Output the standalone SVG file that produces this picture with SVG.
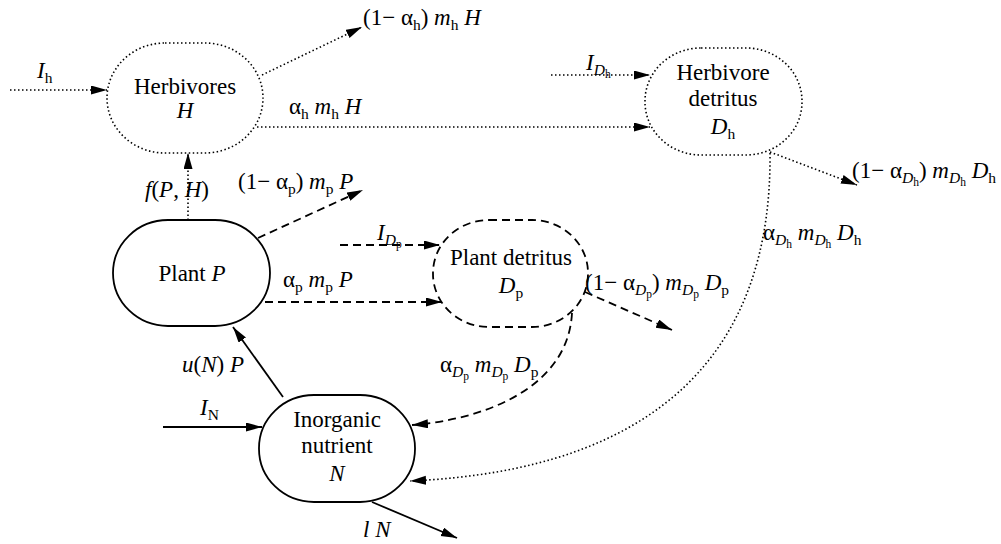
<svg xmlns="http://www.w3.org/2000/svg" width="1001" height="544" viewBox="0 0 1001 544" font-family="'Liberation Serif', 'DejaVu Serif', serif">
<style>
.t{font-size:23px;fill:#000}
.i{font-style:italic}
.s{font-size:15.5px}
.ss{font-size:11.5px}
.node{fill:none;stroke:#000}
.dot{stroke-dasharray:1.5 2.5;stroke-width:1.6}
.dash{stroke-dasharray:8 5;stroke-width:1.8}
.sol{stroke-width:1.8}
.c{fill:none;stroke:#000}
</style>
<defs>
<marker id="ah" markerUnits="userSpaceOnUse" markerWidth="17" markerHeight="10" refX="16" refY="4.5" orient="auto">
<path d="M0,0 L16,4.5 L0,9 z" fill="#000"/>
</marker>
</defs>
<rect width="1001" height="544" fill="#fff"/>
<g id="connectors">
<path class="c dot" d="M10,90 L107,90" marker-end="url(#ah)"/>
<path class="c dot" d="M262,75 L362,27" marker-end="url(#ah)"/>
<path class="c dot" d="M257,127 L650,127" marker-end="url(#ah)"/>
<path class="c dot" d="M551,75 L650,75" marker-end="url(#ah)"/>
<path class="c dot" d="M770,152 L857,185" marker-end="url(#ah)"/>
<path class="c dot" d="M770,153 C772,350 660,470 410,481" marker-end="url(#ah)"/>
<path class="c dot" d="M188,220 L188,153" marker-end="url(#ah)"/>
<path class="c dash" d="M258,238 L363,190" marker-end="url(#ah)"/>
<path class="c dash" d="M340,245 L440,245" marker-end="url(#ah)"/>
<path class="c dash" d="M265,302 L442,302" marker-end="url(#ah)"/>
<path class="c dash" d="M585,292 L672,330" marker-end="url(#ah)"/>
<path class="c dash" d="M572,313 C568,390 480,420 412,425" marker-end="url(#ah)"/>
<path class="c sol" d="M283,397 L233,327" marker-end="url(#ah)"/>
<path class="c sol" d="M163,427 L262,427" marker-end="url(#ah)"/>
<path class="c sol" d="M372,502 L457,538" marker-end="url(#ah)"/>
</g>
<g id="labels">
<text class="t" x="37" y="78"><tspan class="i">I</tspan><tspan class="s" dy="5">h</tspan></text>
<text class="t" x="363" y="25">(1− α<tspan class="s" dy="5">h</tspan><tspan dy="-5">) </tspan><tspan class="i">m</tspan><tspan class="s" dy="5">h</tspan><tspan dy="-5"> </tspan><tspan class="i">H</tspan></text>
<text class="t" x="289" y="114">α<tspan class="s" dy="5">h</tspan><tspan dy="-5"> </tspan><tspan class="i">m</tspan><tspan class="s" dy="5">h</tspan><tspan dy="-5"> </tspan><tspan class="i">H</tspan></text>
<text class="t" x="586" y="70"><tspan class="i">I</tspan><tspan class="s i" dy="5">D</tspan><tspan class="ss" dy="3">h</tspan></text>
<text class="t" x="852" y="178">(1− α<tspan class="s i" dy="5">D</tspan><tspan class="ss" dy="3">h</tspan><tspan dy="-8">) </tspan><tspan class="i">m</tspan><tspan class="s i" dy="5">D</tspan><tspan class="ss" dy="3">h</tspan><tspan dy="-8"> </tspan><tspan class="i">D</tspan><tspan class="s" dy="5">h</tspan></text>
<text class="t" x="763" y="240">α<tspan class="s i" dy="5">D</tspan><tspan class="ss" dy="3">h</tspan><tspan dy="-8"> </tspan><tspan class="i">m</tspan><tspan class="s i" dy="5">D</tspan><tspan class="ss" dy="3">h</tspan><tspan dy="-8"> </tspan><tspan class="i">D</tspan><tspan class="s" dy="5">h</tspan></text>
<text class="t" x="145" y="197"><tspan class="i">f</tspan>(<tspan class="i">P</tspan>, <tspan class="i">H</tspan>)</text>
<text class="t" x="238" y="189">(1− α<tspan class="s" dy="5">p</tspan><tspan dy="-5">) </tspan><tspan class="i">m</tspan><tspan class="s" dy="5">p</tspan><tspan dy="-5"> </tspan><tspan class="i">P</tspan></text>
<text class="t" x="377" y="240"><tspan class="i">I</tspan><tspan class="s i" dy="5">D</tspan><tspan class="ss" dy="3">p</tspan></text>
<text class="t" x="283" y="287">α<tspan class="s" dy="5">p</tspan><tspan dy="-5"> </tspan><tspan class="i">m</tspan><tspan class="s" dy="5">p</tspan><tspan dy="-5"> </tspan><tspan class="i">P</tspan></text>
<text class="t" x="585" y="290">(1− α<tspan class="s i" dy="5">D</tspan><tspan class="ss" dy="3">p</tspan><tspan dy="-8">) </tspan><tspan class="i">m</tspan><tspan class="s i" dy="5">D</tspan><tspan class="ss" dy="3">p</tspan><tspan dy="-8"> </tspan><tspan class="i">D</tspan><tspan class="s" dy="5">p</tspan></text>
<text class="t" x="440" y="372">α<tspan class="s i" dy="5">D</tspan><tspan class="ss" dy="3">p</tspan><tspan dy="-8"> </tspan><tspan class="i">m</tspan><tspan class="s i" dy="5">D</tspan><tspan class="ss" dy="3">p</tspan><tspan dy="-8"> </tspan><tspan class="i">D</tspan><tspan class="s" dy="5">p</tspan></text>
<text class="t" x="182" y="372"><tspan class="i">u</tspan>(<tspan class="i">N</tspan>) <tspan class="i">P</tspan></text>
<text class="t" x="200" y="415"><tspan class="i">I</tspan><tspan class="s" dy="5">N</tspan></text>
<text class="t i" x="363" y="537">l N</text>
</g>
<g id="herbivores">
<rect class="node dot" x="107" y="43" width="156" height="110" rx="58" ry="55"/>
<text class="t" x="185" y="94" text-anchor="middle">Herbivores</text>
<text class="t i" x="185" y="118" text-anchor="middle">H</text>
</g>
<g id="herbivore-detritus">
<rect class="node dot" x="645" y="48" width="157" height="107" rx="56" ry="53"/>
<text class="t" x="723" y="80" text-anchor="middle">Herbivore</text>
<text class="t" x="723" y="106" text-anchor="middle">detritus</text>
<text class="t" x="723" y="134" text-anchor="middle"><tspan class="i">D</tspan><tspan class="s" dy="5">h</tspan></text>
</g>
<g id="plant">
<rect class="node sol" x="113" y="220" width="157" height="106" rx="55" ry="53"/>
<text class="t" x="192" y="281" text-anchor="middle">Plant <tspan class="i">P</tspan></text>
</g>
<g id="plant-detritus">
<rect class="node dash" x="433" y="220" width="155" height="107" rx="56" ry="53"/>
<text class="t" x="511" y="265" text-anchor="middle">Plant detritus</text>
<text class="t" x="511" y="293" text-anchor="middle"><tspan class="i">D</tspan><tspan class="s" dy="5">p</tspan></text>
</g>
<g id="inorganic-nutrient">
<rect class="node sol" x="259" y="395" width="156" height="107" rx="55" ry="53"/>
<text class="t" x="337" y="427" text-anchor="middle">Inorganic</text>
<text class="t" x="337" y="453" text-anchor="middle">nutrient</text>
<text class="t i" x="337" y="481" text-anchor="middle">N</text>
</g>
</svg>
